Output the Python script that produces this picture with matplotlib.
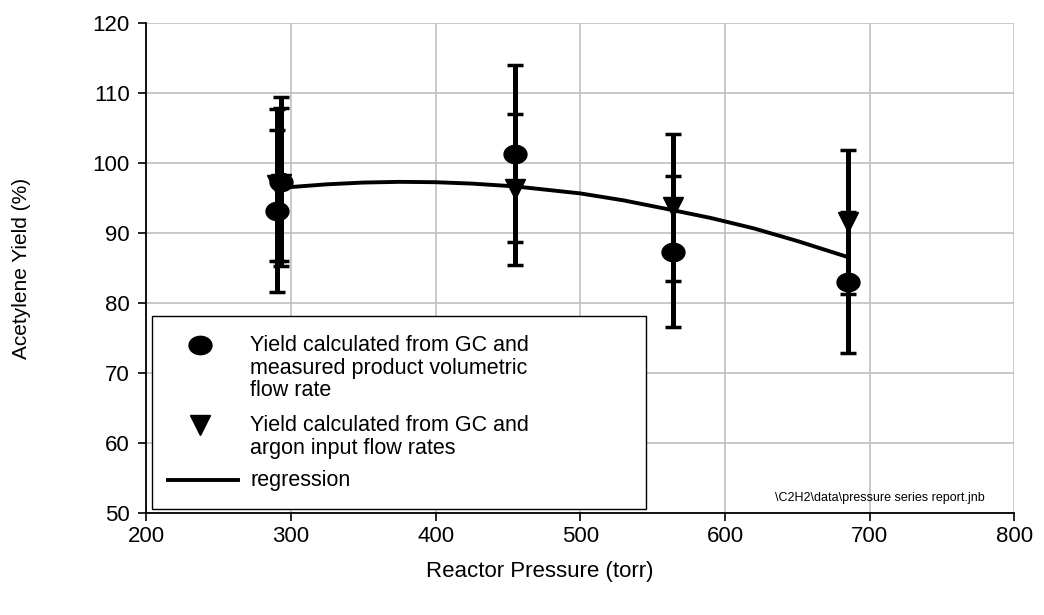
import numpy as np
import matplotlib
matplotlib.use("Agg")
import matplotlib.pyplot as plt
from matplotlib.path import Path
from matplotlib.patches import Rectangle
from matplotlib.lines import Line2D

plt.rcParams['font.family'] = ['Liberation Sans', 'DejaVu Sans']

# ---- data ----
pressure_gc_flow = [290, 293, 455, 564, 685]
yield_gc_flow = [93.2, 97.4, 101.4, 87.4, 83.0]
err_gc_flow = [11.6, 12.1, 12.6, 10.8, 10.1]

pressure_gc_argon = [290, 293, 455, 564, 685]
yield_gc_argon = [96.9, 97.0, 96.3, 93.7, 91.6]
err_gc_argon = [10.9, 10.9, 10.8, 10.5, 10.3]

regression_p = [293, 325, 350, 375, 400, 425, 455, 500, 530, 564, 590, 620, 650, 685]
regression_y = [96.5, 97.0, 97.25, 97.35, 97.3, 97.1, 96.7, 95.7, 94.7, 93.3, 92.2,
                90.7, 88.9, 86.6]

x_ticks = [200, 300, 400, 500, 600, 700, 800]
y_ticks = [50, 60, 70, 80, 90, 100, 110, 120]

legend_labels = ["Yield calculated from GC and\nmeasured product volumetric\nflow rate",
                 "Yield calculated from GC and\nargon input flow rates",
                 "regression"]
note_text = "\\C2H2\\data\\pressure series report.jnb"

# ---- figure ----
W, H = 1044, 615
fig = plt.figure(figsize=(W / 100, H / 100), dpi=100)
AX_L, AX_R, AX_T, AX_B = 146.3, 1014.3, 23.3, 513.3
ax = fig.add_axes([AX_L / W, 1 - AX_B / H, (AX_R - AX_L) / W, (AX_B - AX_T) / H])

def px(x, y):
    return ((x - AX_L) / (AX_R - AX_L), (AX_B - y) / (AX_B - AX_T))

theta = np.linspace(0, 2 * np.pi, 64)
ellipse = Path(np.column_stack([np.cos(theta), 0.8 * np.sin(theta)]), closed=True)

eb_kw = dict(ecolor='black', elinewidth=3.6, capsize=5.5, capthick=2.5,
             linestyle='none', color='black', zorder=3)
ax.errorbar(pressure_gc_flow, yield_gc_flow, yerr=err_gc_flow, marker=ellipse,
            markersize=16.5, **eb_kw)
ax.errorbar(pressure_gc_argon, yield_gc_argon, yerr=err_gc_argon, marker='v',
            markersize=14, **eb_kw)
ax.plot(regression_p, regression_y, color='black', linewidth=2.8, zorder=4,
        solid_joinstyle='round')

ax.set_xlim(200, 800)
ax.set_ylim(50, 120)
ax.set_xticks(x_ticks)
ax.set_yticks(y_ticks)
ax.grid(True, color='#c0c0c0', linewidth=1.2, zorder=0)
ax.set_axisbelow(True)
for s in ['top', 'right']:
    ax.spines[s].set_visible(False)
for s in ['left', 'bottom']:
    ax.spines[s].set_linewidth(1.3)
    ax.spines[s].set_zorder(5)
ax.tick_params(axis='both', direction='out', length=6, width=1.2, labelsize=16)
ax.tick_params(axis='y', pad=6)
ax.tick_params(axis='x', pad=3)

ax.set_xlabel("Reactor Pressure (torr)", fontsize=16)
ax.xaxis.set_label_coords((540 - AX_L) / (AX_R - AX_L), (AX_B - 561) / (AX_B - AX_T))
ax.set_ylabel("Acetylene Yield (%)", fontsize=15)
ax.yaxis.set_label_coords((31 - AX_L) / (AX_R - AX_L), 0.5)

# ---- legend (drawn manually to keep marker on the first line) ----
x0, y0 = px(152, 509)
x1, y1 = px(646, 316)
ax.add_patch(Rectangle((x0, y0), x1 - x0, y1 - y0, transform=ax.transAxes,
                       facecolor='white', edgecolor='black', linewidth=1.0, zorder=6))
mx, my = px(200, 345)
ax.add_line(Line2D([mx], [my], marker=ellipse, markersize=16.5, color='black',
                   transform=ax.transAxes, zorder=7))
mx, my = px(200, 425)
ax.add_line(Line2D([mx], [my], marker='v', markersize=14, color='black',
                   transform=ax.transAxes, zorder=7))
lx0, ly = px(168, 480)
lx1, _ = px(238, 480)
ax.add_line(Line2D([lx0, lx1], [ly, ly], color='black', linewidth=2.8,
                   transform=ax.transAxes, zorder=7))
for lab, ytop in zip(legend_labels, [335, 415, 470]):
    tx, ty = px(250, ytop)
    ax.text(tx, ty, lab, transform=ax.transAxes, fontsize=15.5, ha='left', va='top',
            linespacing=1.1, zorder=8)

nx, ny = px(985, 498)
ax.text(nx, ny, note_text, transform=ax.transAxes, fontsize=9, ha='right',
        va='center', zorder=8)

fig.savefig("out.png", dpi=100)
